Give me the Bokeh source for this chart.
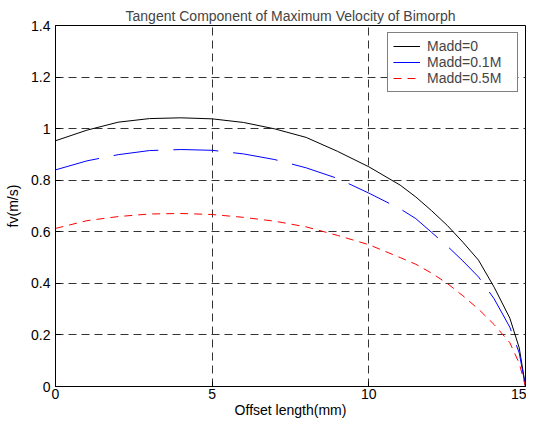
from bokeh.plotting import figure
from bokeh.models import FixedTicker, Legend, LegendItem, Range1d
from bokeh.embed import file_html
from bokeh.resources import INLINE

# Data
x_vals = [0, 1, 2, 3, 4, 5, 6, 7, 8, 9, 10, 11, 11.5, 12, 12.5, 13, 13.5, 14, 14.5, 14.8, 15]
fv_m0 = [0.953, 0.994, 1.025, 1.039, 1.042, 1.038, 1.024, 0.999, 0.966, 0.912,
         0.852, 0.781, 0.735, 0.682, 0.625, 0.560, 0.490, 0.385, 0.265, 0.150, 0.0]
fv_m01 = [0.840, 0.875, 0.899, 0.915, 0.919, 0.916, 0.902, 0.880, 0.848, 0.807,
          0.750, 0.689, 0.651, 0.598, 0.545, 0.487, 0.425, 0.340, 0.230, 0.130, 0.0]
fv_m05 = [0.613, 0.643, 0.659, 0.669, 0.671, 0.667, 0.656, 0.641, 0.619, 0.586,
          0.550, 0.500, 0.474, 0.440, 0.400, 0.352, 0.300, 0.240, 0.170, 0.090, 0.0]
series_labels = ["Madd=0", "Madd=0.1M", "Madd=0.5M"]
x_ticks = [0, 5, 10, 15]
y_ticks = [0, 0.2, 0.4, 0.6, 0.8, 1.0, 1.2, 1.4]
y_tick_labels = ["0", "0.2", "0.4", "0.6", "0.8", "1", "1.2", "1.4"]

FONT = "Liberation Sans"
FS = "14px"

p = figure(width=526, height=420, output_backend="svg", toolbar_location=None,
           x_range=Range1d(0, 15), y_range=Range1d(0, 1.4),
           min_border_left=55, min_border_right=1, min_border_top=25,
           min_border_bottom=34,
           title="Tangent Component of Maximum Velocity of Bimorph")
p.title.align = "center"
p.title.text_font = FONT
p.title.text_font_size = FS
p.title.text_font_style = "normal"
p.title.standoff = 3
p.title.offset = 0

p.outline_line_color = "black"
p.outline_line_width = 1
p.outline_line_alpha = 1
p.background_fill_color = "white"
p.border_fill_color = "white"

for ax in (p.xaxis[0], p.yaxis[0]):
    ax.axis_line_color = "black"
    ax.major_tick_line_color = "black"
    ax.major_tick_in = 5
    ax.major_tick_out = 0
    ax.minor_tick_line_color = None
    ax.major_label_text_font = FONT
    ax.major_label_text_font_size = FS
    ax.major_label_text_color = "black"
    ax.axis_label_text_font = FONT
    ax.axis_label_text_font_size = FS
    ax.axis_label_text_font_style = "normal"
    ax.axis_label_text_color = "black"

p.xaxis.ticker = FixedTicker(ticks=x_ticks)
p.yaxis.ticker = FixedTicker(ticks=y_ticks)
p.yaxis.major_label_overrides = {t: l for t, l in zip(y_ticks, y_tick_labels)}
p.xaxis.axis_label = "Offset length(mm)"
p.yaxis.axis_label = "fv(m/s)"
p.xaxis.major_label_standoff = 2
p.xaxis.axis_label_standoff = 0
p.yaxis.major_label_standoff = 5
p.yaxis.axis_label_standoff = 7

for g in (p.xgrid[0], p.ygrid[0]):
    g.grid_line_color = "#333333"
    g.grid_line_dash = "8 5"
    g.grid_line_width = 1

r0 = p.line(x_vals, fv_m0, line_color="black", line_width=1)
r1 = p.line(x_vals, fv_m01, line_color="blue", line_width=1, line_dash="45 15")
r2 = p.line(x_vals, fv_m05, line_color="red", line_width=1, line_dash="8 6")

legend = Legend(items=[LegendItem(label=series_labels[0], renderers=[r0]),
                       LegendItem(label=series_labels[1], renderers=[r1]),
                       LegendItem(label=series_labels[2], renderers=[r2])],
                location="top_right")
legend.margin = 7
legend.padding = 5
legend.spacing = 0
legend.label_height = 16
legend.label_width = 85
legend.glyph_height = 16
legend.glyph_width = 27
legend.label_standoff = 7
legend.label_text_font = FONT
legend.label_text_font_size = FS
legend.border_line_color = "black"
legend.border_line_width = 1
legend.background_fill_alpha = 1
p.add_layout(legend)

open("out.html", "w").write(file_html(p, INLINE))
